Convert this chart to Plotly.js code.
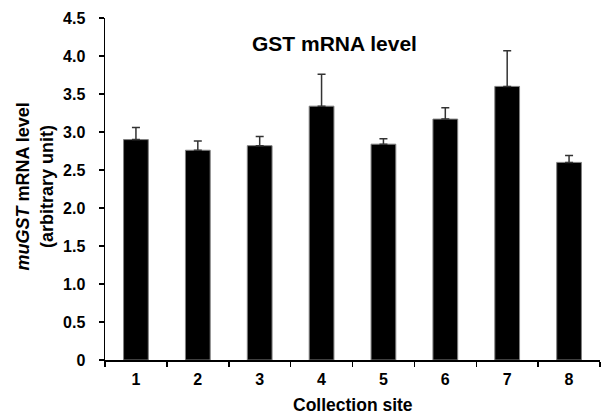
<!DOCTYPE html>
<html>
<head>
<meta charset="utf-8">
<script src="https://cdn.plot.ly/plotly-3.0.1.min.js"></script>
<style>
html, body { margin: 0; padding: 0; background: #fff; }
#chart { width: 601px; height: 416px; }
</style>
</head>
<body>
<div id="chart"></div>
<script>
const sites = ["1", "2", "3", "4", "5", "6", "7", "8"];
const meanLevel = [2.90, 2.76, 2.82, 3.34, 2.84, 3.17, 3.60, 2.60];
const errUpper = [0.16, 0.12, 0.12, 0.42, 0.07, 0.15, 0.47, 0.09];
const errLower = [0, 0, 0, 0, 0, 0, 0, 0];
const yTickVals = [0, 0.5, 1.0, 1.5, 2.0, 2.5, 3.0, 3.5, 4.0, 4.5];
const yTickText = ["0", "0.5", "1.0", "1.5", "2.0", "2.5", "3.0", "3.5", "4.0", "4.5"];

const FONT = "Liberation Sans, Arial, sans-serif";

const trace = {
  type: "bar",
  x: sites,
  y: meanLevel,
  width: 0.4,
  marker: { color: "#000000", line: { color: "#808080", width: 1 } },
  error_y: {
    type: "data",
    symmetric: false,
    array: errUpper,
    arrayminus: errLower,
    color: "#333333",
    thickness: 1.5,
    width: 4
  },
  hoverinfo: "none"
};

const layout = {
  width: 601,
  height: 416,
  margin: { l: 105, r: 1, t: 17.5, b: 56, pad: 0 },
  paper_bgcolor: "#ffffff",
  plot_bgcolor: "#ffffff",
  showlegend: false,
  font: { family: FONT, color: "#000000" },
  title: {
    text: "<b>GST mRNA level</b>",
    font: { family: FONT, size: 21, color: "#000000" },
    xref: "paper", x: 0.4636, xanchor: "center",
    yref: "container", y: 0.895, yanchor: "middle"
  },
  xaxis: {
    type: "category",
    showgrid: false,
    zeroline: false,
    showline: true,
    linecolor: "#000000",
    linewidth: 1.5,
    ticks: "outside",
    tickson: "boundaries",
    ticklen: 5,
    tickwidth: 1.5,
    tickcolor: "#000000",
    tickfont: { family: FONT, size: 16, color: "#000000", weight: "bold" },
    ticklabelstandoff: 4,
    fixedrange: true
  },
  yaxis: {
    range: [0, 4.5],
    showgrid: false,
    zeroline: false,
    showline: true,
    linecolor: "#000000",
    linewidth: 1.5,
    ticks: "outside",
    ticklen: 5,
    tickwidth: 1.5,
    tickcolor: "#000000",
    tickmode: "array",
    tickvals: yTickVals,
    ticktext: yTickText,
    tickfont: { family: FONT, size: 16, color: "#000000", weight: "bold" },
    ticklabelstandoff: 10,
    fixedrange: true
  },
  annotations: [
    {
      text: "<b><i>muGST</i> mRNA level</b><br><b>(arbitrary unit)</b>",
      xref: "paper", yref: "paper",
      x: -0.1414, y: 0.507,
      xanchor: "center", yanchor: "middle",
      textangle: -90,
      showarrow: false,
      font: { family: FONT, size: 18, color: "#000000" }
    },
    {
      text: "<b>Collection site</b>",
      xref: "paper", yref: "paper",
      x: 0.5, y: -0.131,
      xanchor: "center", yanchor: "middle",
      showarrow: false,
      font: { family: FONT, size: 17.5, color: "#000000" }
    }
  ]
};

Plotly.newPlot("chart", [trace], layout, { staticPlot: true, displayModeBar: false });
</script>
</body>
</html>
